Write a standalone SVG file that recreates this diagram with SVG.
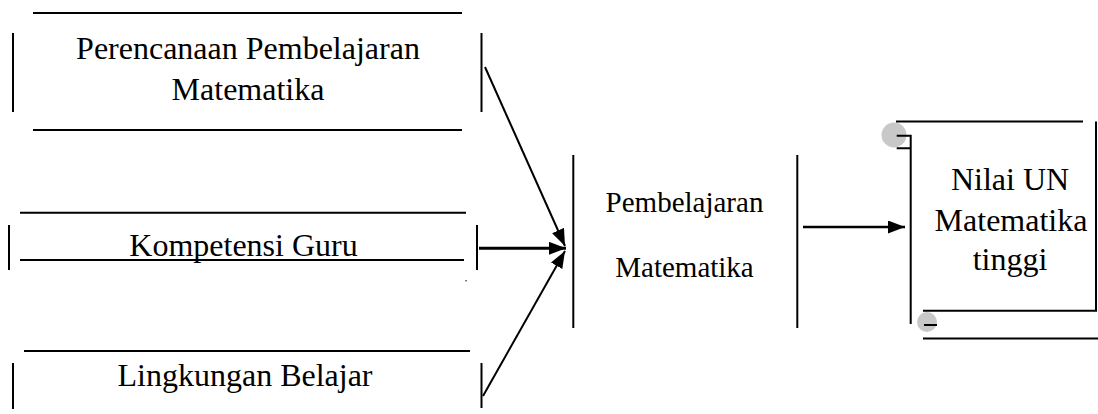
<svg xmlns="http://www.w3.org/2000/svg" width="1098" height="414" viewBox="0 0 1098 414">
<style>
.ln{stroke:#000;stroke-width:2;fill:none}
.t{font-size:32px;fill:#000;text-anchor:middle}
.tm{font-size:29px;fill:#000;text-anchor:middle}
.cur{fill:#c8c8c8;stroke:none}
.ar{stroke:#000;stroke-width:2;fill:none;marker-end:url(#ah)}
</style>
<defs>
<marker id="ah" markerUnits="userSpaceOnUse" markerWidth="18" markerHeight="14" refX="17" refY="6.5" orient="auto">
<path d="M0,0 L17,6.5 L0,13 z" fill="#000"/>
</marker>
</defs>
<rect width="1098" height="414" fill="#fff"/>
<g font-family="Liberation Serif, Times New Roman, DejaVu Serif, serif">
<g id="node-perencanaan">
<path class="ln" d="M33,13 H462 M33,130 H462 M13,33 V112 M481.5,33 V112"/>
<text class="t" x="248" y="59">Perencanaan Pembelajaran</text>
<text class="t" x="248" y="100">Matematika</text>
</g>
<g id="node-kompetensi">
<path class="ln" d="M20,212.7 H466 M20,260 H464 M9,225 V270 M477,225 V270"/>
<rect x="465.5" y="280" width="1" height="1.5" fill="#000"/>
<text class="t" x="243.5" y="256">Kompetensi Guru</text>
</g>
<g id="node-lingkungan">
<path class="ln" d="M24,351 H470 M13,363 V409 M481.5,363 V408"/>
<text class="t" x="245" y="386">Lingkungan Belajar</text>
</g>
<g id="node-pembelajaran">
<path class="ln" d="M573.3,155 V328 M797.3,155 V328"/>
<text class="tm" x="684.5" y="212">Pembelajaran</text>
<text class="tm" x="684.5" y="277">Matematika</text>
</g>
<g id="node-nilai">
<circle class="cur" cx="894" cy="135" r="12.5"/>
<circle class="cur" cx="927" cy="322" r="10"/>
<path class="ln" d="M896,121.5 H1083 M896.7,135.7 H910.7 V324 M896.7,148.3 H910.7 M1096,121.5 V310.7 M923,310.7 H1097 M924,325 H937 M923,338.5 H1098"/>
<text class="t" x="1010" y="190">Nilai UN</text>
<text class="t" x="1011" y="231">Matematika</text>
<text class="t" x="1010" y="270">tinggi</text>
</g>
</g>
<g id="connectors">
<path class="ar" d="M485,67 L565,246"/>
<path class="ar" style="stroke-width:3" d="M479,248.3 L566,248.3"/>
<path class="ar" d="M483,396 L565,251"/>
<path class="ar" style="stroke-width:2.5" d="M803,227 L905,227"/>
</g>
</svg>
